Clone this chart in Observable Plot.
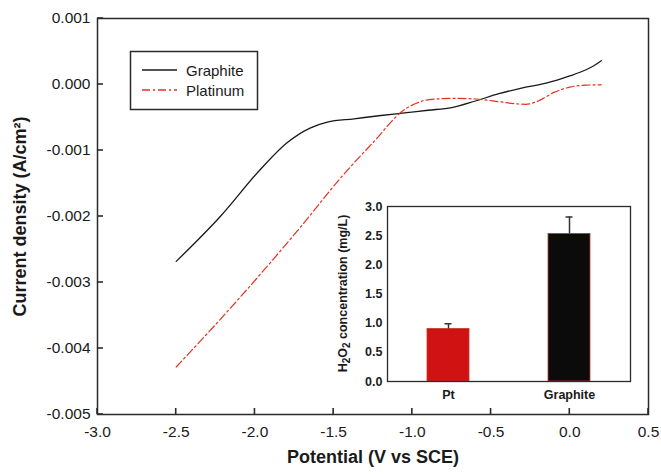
<!DOCTYPE html>
<html>
<head>
<meta charset="utf-8">
<script src="https://cdn.jsdelivr.net/npm/d3@7"></script>
<script src="https://cdn.jsdelivr.net/npm/@observablehq/plot@0.6"></script>
<style>
  body { margin: 0; background: #fff; }
  #wrap { position: relative; width: 661px; height: 474px; font-family: "Liberation Sans", Arial, sans-serif; }
  #wrap svg { display: block; }
  #inset { position: absolute; left: 330px; top: 195px; }
</style>
</head>
<body>
<div id="wrap"><div id="main"></div><div id="inset"></div></div>
<script>
// Linear sweep voltammograms: potential (V vs SCE) and current density (A/cm²)
const graphitePotential = [-2.5, -2.22, -1.97, -1.8, -1.65, -1.54, -1.37, -1.2, -1.05, -0.9, -0.75, -0.6, -0.45, -0.3, -0.15, 0.0, 0.1, 0.15, 0.2];
const graphiteCurrent = [-0.00268, -0.00200, -0.00130, -0.00089, -0.00066, -0.00057, -0.00052, -0.00047, -0.00043, -0.00039, -0.00035, -0.00025, -0.00014, -0.00005, 0.00002, 0.00013, 0.00022, 0.00028, 0.00036];
const platinumPotential = [-2.5, -2.1, -1.7, -1.45, -1.25, -1.05, -0.97, -0.92, -0.85, -0.75, -0.6, -0.45, -0.35, -0.28, -0.2, -0.1, 0.0, 0.1, 0.2];
const platinumCurrent = [-0.00428, -0.00324, -0.00213, -0.00140, -0.00088, -0.00038, -0.00028, -0.00024, -0.00022, -0.00021, -0.00022, -0.00026, -0.00029, -0.00030, -0.00025, -0.00012, -0.00004, -0.00001, -0.000005];
const seriesNames = ["Graphite", "Platinum"];
const seriesColors = ["#1a1a1a", "#e4321f"];
const seriesDash = [null, "8,3,2,3"];
const xDomain = [-3.0, 0.5];
const yDomain = [-0.005, 0.001];
const xTicks = [-3.0, -2.5, -2.0, -1.5, -1.0, -0.5, 0.0, 0.5];
const yTicks = [0.001, 0.000, -0.001, -0.002, -0.003, -0.004, -0.005];

// H2O2 produced at each cathode (mg/L) with standard deviation
const electrodes = ["Pt", "Graphite"];
const h2o2Conc = [0.90, 2.53];
const h2o2Err = [0.09, 0.29];
const barColors = ["#d01212", "#0b0b0b"];
const insetTicks = [0.0, 0.5, 1.0, 1.5, 2.0, 2.5, 3.0];

const graphite = graphitePotential.map((v, i) => ({v, j: graphiteCurrent[i]}));
const platinum = platinumPotential.map((v, i) => ({v, j: platinumCurrent[i]}));
const h2o2 = electrodes.map((e, i) => ({electrode: e, conc: h2o2Conc[i], err: h2o2Err[i]}));

const font = "Liberation Sans, Arial, sans-serif";
const axisColor = "#2a2a2a";

const main = Plot.plot({
  width: 661, height: 474,
  marginLeft: 97, marginRight: 13, marginTop: 18, marginBottom: 60,
  style: {fontFamily: font, color: "#1a1a1a", background: "transparent"},
  x: {domain: xDomain},
  y: {domain: yDomain},
  marks: [
    // tick labels
    Plot.axisX({ticks: xTicks, tickSize: 0, tickPadding: 11, tickFormat: d => d.toFixed(1), fontSize: 15.5, label: null}),
    Plot.axisY({ticks: yTicks, tickSize: 0, tickPadding: 7, tickFormat: d => d.toFixed(3), fontSize: 15.5, label: null}),
    // axis titles
    Plot.axisX({ticks: [], label: "Potential (V vs SCE)", labelArrow: "none", labelAnchor: "center", labelOffset: 48, fontSize: 18, fontWeight: "bold"}),
    Plot.axisY({ticks: [], label: "Current density (A/cm²)", labelArrow: "none", labelAnchor: "center", labelOffset: 84, fontSize: 18, fontWeight: "bold"}),
    Plot.line(graphite, {x: "v", y: "j", stroke: seriesColors[0], strokeWidth: 1.3, curve: "monotone-x"}),
    Plot.line(platinum, {x: "v", y: "j", stroke: seriesColors[1], strokeWidth: 1.2, strokeDasharray: seriesDash[1], curve: "monotone-x"}),
    Plot.frame({stroke: axisColor, strokeWidth: 1.5})
  ]
});
document.getElementById("main").append(main);

// Inward tick marks placed with the plot's own scales
const xs = main.scale("x"), ys = main.scale("y");
const tk = d3.select(main).append("g").attr("stroke", axisColor).attr("stroke-width", 1.6);
const yBottom = ys.apply(yDomain[0]), xLeft = xs.apply(xDomain[0]);
xTicks.forEach(v => {
  const x = xs.apply(v);
  tk.append("line").attr("x1", x).attr("x2", x).attr("y1", yBottom - 6).attr("y2", yBottom);
});
yTicks.forEach(v => {
  const y = ys.apply(v);
  tk.append("line").attr("x1", xLeft).attr("x2", xLeft + 6).attr("y1", y).attr("y2", y);
});

// Legend box
const lg = d3.select(main).append("g")
  .attr("font-family", font).attr("font-size", 15).attr("text-anchor", "start");
lg.append("rect").attr("x", 130.5).attr("y", 51.5).attr("width", 127).attr("height", 58)
  .attr("fill", "none").attr("stroke", axisColor).attr("stroke-width", 1.5);
seriesNames.forEach((name, i) => {
  const y = 70 + 20 * i;
  lg.append("line").attr("x1", 142).attr("x2", 177).attr("y1", y).attr("y2", y)
    .attr("stroke", seriesColors[i]).attr("stroke-width", 1.3)
    .attr("stroke-dasharray", seriesDash[i]);
  lg.append("text").attr("x", 186).attr("y", y + 5.5).attr("fill", "#1a1a1a").text(name);
});

// Inset bar chart
const inset = Plot.plot({
  width: 310, height: 210,
  marginLeft: 57, marginRight: 10, marginTop: 11, marginBottom: 24,
  style: {fontFamily: font, color: "#1a1a1a", background: "transparent"},
  x: {domain: electrodes, paddingInner: 0.654, paddingOuter: 0.327},
  y: {domain: [0, 3]},
  color: {domain: electrodes, range: barColors},
  marks: [
    Plot.barY(h2o2, {x: "electrode", y: "conc", fill: "electrode", stroke: "#c0392b", strokeWidth: 0.8}),
    Plot.ruleX(h2o2, {x: "electrode", y1: "conc", y2: d => d.conc + d.err, stroke: "#333", strokeWidth: 1.5}),
    Plot.tickY(h2o2, {x: "electrode", y: d => d.conc + d.err, inset: 17.5, stroke: "#333", strokeWidth: 1.5}),
    Plot.axisX({tickSize: 0, tickPadding: 9, fontSize: 12.5, fontWeight: "bold", label: null}),
    Plot.axisY({ticks: insetTicks, tickSize: 0, tickPadding: 5, tickFormat: d => d.toFixed(1), fontSize: 12.5, fontWeight: "bold", label: null}),
    Plot.frame({stroke: axisColor, strokeWidth: 1.3})
  ]
});
document.getElementById("inset").append(inset);

// Inset y-axis title with subscripts
const t = d3.select(inset).append("text")
  .attr("transform", "translate(17,98.5) rotate(-90)")
  .attr("text-anchor", "middle").attr("font-family", font)
  .attr("font-size", 12.5).attr("font-weight", "bold").attr("fill", "#1a1a1a");
t.append("tspan").text("H");
t.append("tspan").attr("font-size", 10).attr("dy", 3).text("2");
t.append("tspan").attr("dy", -3).text("O");
t.append("tspan").attr("font-size", 10).attr("dy", 3).text("2");
t.append("tspan").attr("dy", -3).text(" concentration (mg/L)");
</script>
</body>
</html>
